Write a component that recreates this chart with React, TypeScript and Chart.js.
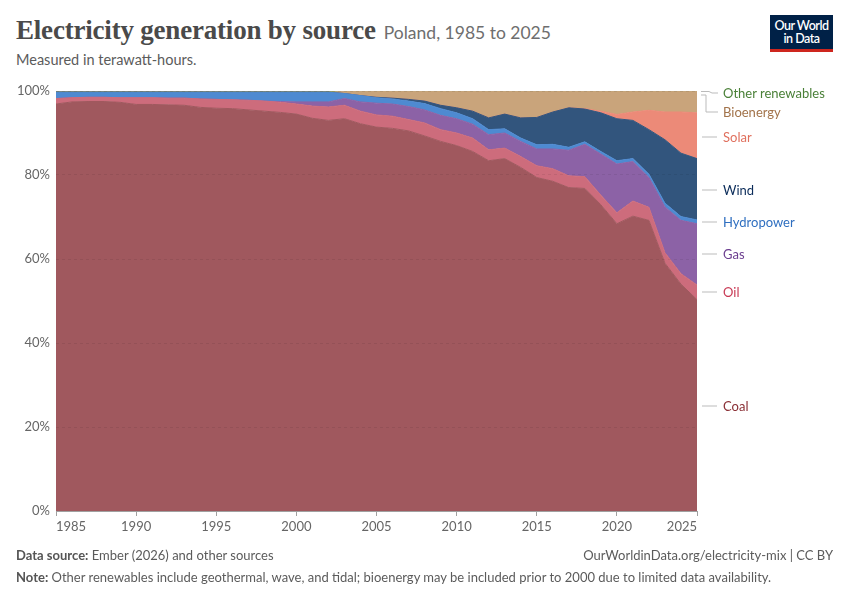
import React, { useEffect, useRef } from "react";
import { Chart, registerables } from "chart.js";

Chart.register(...registerables);

// ---- Data (share of electricity generation, %) ----
const years = [
  1985, 1986, 1987, 1988, 1989, 1990, 1991, 1992, 1993, 1994,
  1995, 1996, 1997, 1998, 1999, 2000, 2001, 2002, 2003, 2004,
  2005, 2006, 2007, 2008, 2009, 2010, 2011, 2012, 2013, 2014,
  2015, 2016, 2017, 2018, 2019, 2020, 2021, 2022, 2023, 2024, 2025,
];

const coal = [
  96.9, 97.4, 97.5, 97.5, 97.3, 96.8, 96.8, 96.7, 96.6, 96.1,
  95.9, 95.8, 95.5, 95.2, 94.9, 94.5, 93.5, 93.0, 93.4, 92.2,
  91.4, 91.1, 90.5, 89.3, 88.0, 87.0, 85.6, 83.4, 83.9, 81.8,
  79.4, 78.5, 77.0, 76.8, 72.9, 68.4, 70.2, 69.2, 59.0, 54.0, 50.3,
];
const oil = [
  1.3, 1.0, 1.0, 1.0, 1.1, 1.6, 1.6, 1.6, 1.7, 2.0,
  2.1, 2.1, 2.3, 2.4, 2.4, 2.4, 2.9, 3.2, 3.2, 3.0,
  2.9, 2.9, 2.7, 3.1, 2.8, 3.0, 3.2, 2.6, 2.5, 2.6,
  2.8, 3.0, 2.8, 2.8, 2.3, 2.6, 3.6, 3.1, 2.5, 2.5, 3.5,
];
const gas = [
  0, 0, 0, 0, 0, 0, 0, 0, 0, 0,
  0, 0, 0, 0, 0.2, 0.5, 1.0, 1.2, 1.6, 2.2,
  2.8, 2.9, 3.1, 3.1, 3.4, 3.4, 3.3, 3.6, 3.6, 3.6,
  4.0, 4.7, 6.1, 7.7, 9.8, 11.6, 9.4, 7.1, 10.9, 12.7, 14.6,
];
const hydropower = [
  1.5, 1.3, 1.2, 1.2, 1.3, 1.3, 1.3, 1.4, 1.4, 1.6,
  1.7, 1.8, 1.9, 2.1, 2.2, 2.3, 2.3, 2.3, 1.2, 1.5,
  1.3, 1.2, 1.3, 1.5, 1.6, 1.4, 1.3, 1.2, 1.0, 0.8,
  1.0, 1.1, 0.7, 0.6, 0.6, 0.8, 0.7, 0.8, 0.9, 0.9, 0.9,
];
const wind = [
  0, 0, 0, 0, 0, 0, 0, 0, 0, 0,
  0, 0, 0, 0, 0, 0, 0, 0, 0, 0,
  0.1, 0.2, 0.4, 0.6, 0.8, 1.2, 1.8, 2.8, 3.5, 4.8,
  6.5, 7.7, 9.4, 7.8, 9.2, 10.0, 9.1, 10.6, 15.1, 15.1, 14.6,
];
const solar = [
  0, 0, 0, 0, 0, 0, 0, 0, 0, 0,
  0, 0, 0, 0, 0, 0, 0, 0, 0, 0,
  0, 0, 0, 0, 0, 0, 0, 0, 0, 0,
  0, 0, 0, 0.1, 0.4, 1.0, 2.0, 4.6, 6.6, 9.8, 10.9,
];
const bioenergy = [
  0, 0, 0, 0, 0, 0, 0, 0, 0, 0,
  0, 0, 0, 0, 0, 0, 0, 0, 0.5, 1.0,
  1.4, 1.6, 1.9, 2.3, 3.3, 3.9, 4.7, 6.3, 5.4, 6.3,
  6.2, 4.9, 3.9, 4.1, 4.7, 5.5, 4.9, 4.5, 4.9, 4.9, 5.1,
];
const otherRenewables = [
  0.3, 0.3, 0.3, 0.3, 0.3, 0.3, 0.3, 0.3, 0.3, 0.3,
  0.3, 0.3, 0.3, 0.3, 0.3, 0.3, 0.3, 0.3, 0.1, 0.1,
  0.1, 0.1, 0.1, 0.1, 0.1, 0.1, 0.1, 0.1, 0.1, 0.1,
  0.1, 0.1, 0.1, 0.1, 0.1, 0.1, 0.1, 0.1, 0.1, 0.1, 0.1,
];

const yTicks = [0, 20, 40, 60, 80, 100];
const xTickStep = 5;

const series = [
  { label: "Coal", data: coal, fill: "#a0585e" },
  { label: "Oil", data: oil, fill: "#cd6c7c" },
  { label: "Gas", data: gas, fill: "#8c62a6" },
  { label: "Hydropower", data: hydropower, fill: "#4e8ad1" },
  { label: "Wind", data: wind, fill: "#32557d" },
  { label: "Solar", data: solar, fill: "#ec8a78" },
  { label: "Bioenergy", data: bioenergy, fill: "#c9a47b" },
  { label: "Other renewables", data: otherRenewables, fill: "#6f9a5a" },
];

// right-hand labels (text colour, vertical position in page px)
const endLabels = [
  { text: "Other renewables", color: "#4a8038", y: 93 },
  { text: "Bioenergy", color: "#a2734a", y: 112 },
  { text: "Solar", color: "#e0705e", y: 137 },
  { text: "Wind", color: "#0b2c5a", y: 190 },
  { text: "Hydropower", color: "#2f6fc0", y: 222 },
  { text: "Gas", color: "#6b3d8f", y: 254 },
  { text: "Oil", color: "#c83a55", y: 292 },
  { text: "Coal", color: "#8a2f35", y: 406 },
];

const FONT = "Lato, 'Noto Sans', sans-serif";

function StackedArea() {
  const ref = useRef<HTMLCanvasElement | null>(null);
  useEffect(() => {
    if (!ref.current) return;
    const chart = new Chart(ref.current, {
      type: "line",
      data: {
        datasets: series.map((s, i) => ({
          label: s.label,
          data: years.map((yr, k) => ({ x: yr, y: s.data[k] })),
          backgroundColor: s.fill,
          borderColor: s.fill,
          borderWidth: 1,
          fill: i === 0 ? "origin" : "-1",
          pointRadius: 0,
          tension: 0,
        })),
      },
      options: {
        animation: false,
        responsive: true,
        maintainAspectRatio: false,
        layout: { padding: { top: 16, right: 153, bottom: 0, left: 0 } },
        plugins: { legend: { display: false }, tooltip: { enabled: false } },
        scales: {
          x: {
            type: "linear",
            min: years[0],
            max: years[years.length - 1],
            ticks: {
              stepSize: xTickStep,
              callback: (v: any) => String(v),
              align: "inner",
              font: { family: FONT, size: 13 },
              color: "#666",
              padding: 3,
              maxRotation: 0,
              autoSkip: false,
            },
            grid: { drawOnChartArea: false, drawTicks: true, tickLength: 5, color: "#a0a0a0" },
            border: { display: true, color: "#a0a0a0", z: 1 },
            afterFit: (s: any) => {
              s.height = 29;
            },
          },
          y: {
            stacked: true,
            min: 0,
            max: 100,
            afterBuildTicks: (s: any) => {
              s.ticks = yTicks.map((v) => ({ value: v }));
            },
            ticks: {
              callback: (v: any) => `${v}%`,
              font: { family: FONT, size: 13 },
              color: "#666",
              padding: 6,
            },
            grid: {
              z: 1,
              drawTicks: false,
              color: (ctx: any) =>
                ctx.tick && ctx.tick.value === 0 ? "rgba(0,0,0,0)" : "rgba(0,0,0,0.07)",
            },
            border: { display: false, dash: [3, 3] },
            afterFit: (s: any) => {
              s.width = 56;
            },
          },
        },
      } as any,
    });
    return () => chart.destroy();
  }, []);
  return (
    <div style={{ position: "absolute", left: 0, top: 75, width: 850, height: 465 }}>
      <canvas ref={ref} />
    </div>
  );
}

export default function App() {
  return (
    <div
      style={{
        position: "absolute",
        left: 0,
        top: 0,
        width: 850,
        height: 600,
        background: "#fff",
        fontFamily: FONT,
        overflow: "hidden",
      }}
    >
      <div
        style={{
          position: "absolute",
          left: 16,
          top: 15,
          whiteSpace: "nowrap",
          lineHeight: "30px",
        }}
      >
        <span
          style={{
            fontFamily: "'Liberation Serif', 'DejaVu Serif', serif",
            fontWeight: 700,
            fontSize: 27,
            color: "#4a4a4a",
            letterSpacing: "-0.2px",
          }}
        >
          Electricity generation by source
        </span>
        <span style={{ fontFamily: FONT, fontSize: 17.5, color: "#6e6e6e", marginLeft: 8 }}>
          Poland, 1985 to 2025
        </span>
      </div>
      <div
        style={{
          position: "absolute",
          left: 16,
          top: 51,
          fontSize: 14.5,
          color: "#5b5b5b",
          whiteSpace: "nowrap",
        }}
      >
        Measured in terawatt-hours.
      </div>

      {/* logo */}
      <div
        style={{
          position: "absolute",
          left: 770,
          top: 15,
          width: 63,
          height: 37,
          background: "#002147",
          borderBottom: "3px solid #ce261e",
          boxSizing: "border-box",
          color: "#fff",
          fontSize: 12.5,
          fontWeight: 600,
          lineHeight: "13px",
          textAlign: "center",
          letterSpacing: "-0.5px",
          paddingTop: 4,
        }}
      >
        Our World
        <br />
        in Data
      </div>

      <StackedArea />

      {/* connector lines for end labels */}
      <svg
        width={850}
        height={600}
        style={{ position: "absolute", left: 0, top: 0, pointerEvents: "none" }}
      >
        <polyline points="701,91.5 709,91.5 712,93 718,93" fill="none" stroke="#bbb" strokeWidth={1} />
        <polyline points="701,95 706,95 706,112 718,112" fill="none" stroke="#bbb" strokeWidth={1} />
        {endLabels.slice(2).map((l) => (
          <line key={l.text} x1={702} x2={717} y1={l.y} y2={l.y} stroke="#bbb" strokeWidth={1} />
        ))}
      </svg>
      {endLabels.map((l) => (
        <div
          key={l.text}
          style={{
            position: "absolute",
            left: 723,
            top: l.y - 9,
            height: 18,
            lineHeight: "18px",
            fontSize: 13,
            color: l.color,
            whiteSpace: "nowrap",
          }}
        >
          {l.text}
        </div>
      ))}

      {/* footer */}
      <div style={{ position: "absolute", left: 16, top: 547, fontSize: 13, color: "#5b5b5b", whiteSpace: "nowrap" }}>
        <b style={{ fontWeight: 700, color: "#555" }}>Data source:</b> Ember (2026) and other sources
      </div>
      <div
        style={{
          position: "absolute",
          right: 17,
          top: 547,
          fontSize: 13,
          color: "#5b5b5b",
          whiteSpace: "nowrap",
        }}
      >
        OurWorldinData.org/electricity-mix | CC BY
      </div>
      <div style={{ position: "absolute", left: 16, top: 569, fontSize: 13, color: "#5b5b5b", whiteSpace: "nowrap" }}>
        <b style={{ fontWeight: 700, color: "#555" }}>Note:</b> Other renewables include geothermal, wave, and tidal;
        bioenergy may be included prior to 2000 due to limited data availability.
      </div>
    </div>
  );
}
